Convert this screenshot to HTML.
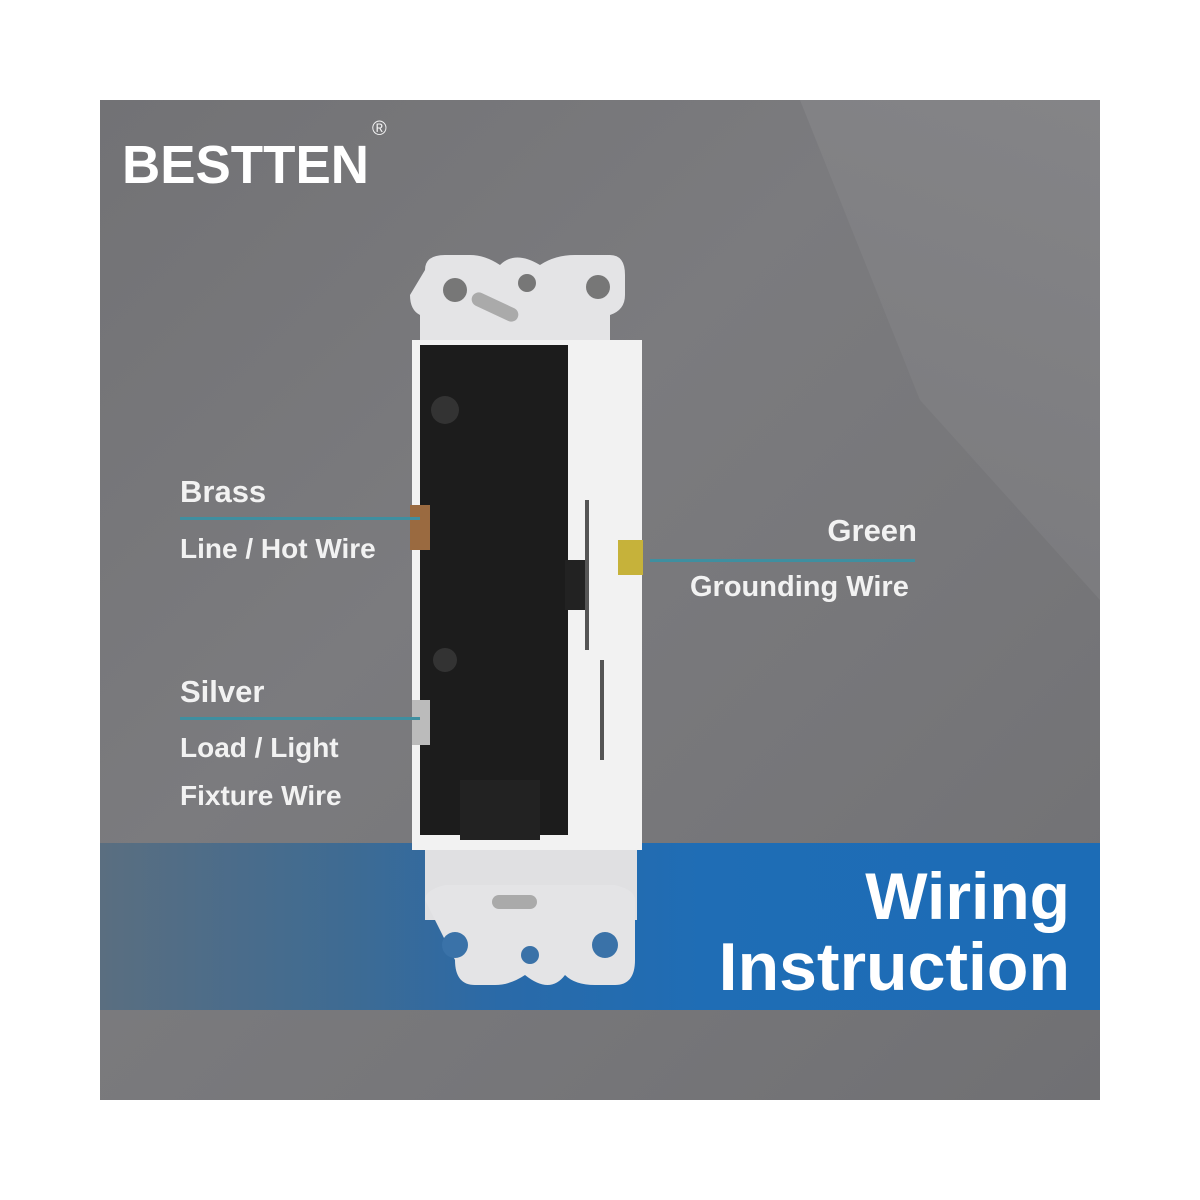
<!DOCTYPE html>
<html><head><style>
body{margin:0;width:1200px;height:1200px;background:#fff;position:relative;overflow:hidden;font-family:"Liberation Sans",sans-serif}
#p{position:absolute;left:100px;top:100px;width:1000px;height:1000px;background:linear-gradient(135deg,#727275 0%,#7b7b7e 40%,#767679 70%,#707073 100%);overflow:hidden}
.t{position:absolute;color:#f2f2f2;font-weight:bold;white-space:nowrap}
.l{position:absolute;height:3px;background:#3f8fa0}
</style></head><body>
<div id="p">
<div style="position:absolute;left:700px;top:0;width:300px;height:500px;background:linear-gradient(200deg,#848487,#7a7a7d);clip-path:polygon(0 0,100% 0,100% 100%,40% 60%)"></div>
<div style="position:absolute;left:0;top:743px;width:1000px;height:167px;background:linear-gradient(90deg,#5a6e80 0%,#3e6b93 25%,#2a6aa8 40%,#1f6db5 60%,#1c6cb6 100%)"></div>
</div>
<div class="t" style="left:122px;top:134px;font-size:54px;color:#fff;transform:scaleX(0.98);transform-origin:left top">BESTTEN</div>
<div class="t" style="left:372px;top:118px;font-size:20px;font-weight:normal">®</div>
<svg style="position:absolute;left:0;top:0" width="1200" height="1200">
<path d="M425 270 q0-15 20-15 h25 q15 0 30 10 q15-15 40 0 q15-10 35-10 h35 q15 0 15 20 v20 q0 15-15 20 v25 h-190 v-25 q-10-5-10-20z" fill="#e4e4e6"/>
<circle cx="455" cy="290" r="12" fill="#777"/><circle cx="527" cy="283" r="9" fill="#777"/><circle cx="598" cy="287" r="12" fill="#777"/>
<rect x="470" y="300" width="50" height="14" rx="7" fill="#aaa" transform="rotate(25 495 307)"/>
<rect x="412" y="340" width="230" height="510" fill="#f2f2f2"/>
<rect x="420" y="345" width="148" height="490" fill="#1c1c1c"/>
<rect x="565" y="560" width="20" height="50" fill="#222"/>
<circle cx="445" cy="410" r="14" fill="#333"/><circle cx="445" cy="660" r="12" fill="#333"/>
<rect x="410" y="505" width="20" height="45" fill="#9a6a40"/>
<rect x="412" y="700" width="18" height="45" fill="#bbb"/>
<rect x="618" y="540" width="25" height="35" fill="#c6b23a"/>
<rect x="585" y="500" width="4" height="150" fill="#555"/>
<rect x="600" y="660" width="4" height="100" fill="#555"/>
<rect x="425" y="850" width="212" height="70" fill="#e0e0e2"/>
<rect x="460" y="780" width="80" height="60" fill="#222"/>
<path d="M425 900 q0-10 20-15 h170 q20 5 20 15 v60 q0 25-20 25 h-20 q-20 0-30-10 q-15 20-40 0 q-15 10-30 10 h-20 q-20 0-20-25z" fill="#e4e4e6"/>
<circle cx="455" cy="945" r="13" fill="#3a72a8"/><circle cx="530" cy="955" r="9" fill="#3a72a8"/><circle cx="605" cy="945" r="13" fill="#3a72a8"/>
<rect x="492" y="895" width="45" height="14" rx="7" fill="#aaa"/>
</svg>
<div class="l" style="left:180px;top:517px;width:240px"></div>
<div class="l" style="left:650px;top:559px;width:265px"></div>
<div class="l" style="left:180px;top:717px;width:240px"></div>
<div class="t" style="left:180px;top:474px;font-size:31px">Brass</div>
<div class="t" style="left:180px;top:533px;font-size:28px">Line / Hot Wire</div>
<div class="t" style="right:283px;top:513px;font-size:31px">Green</div>
<div class="t" style="left:690px;top:571px;font-size:29px">Grounding Wire</div>
<div class="t" style="left:180px;top:674px;font-size:31px">Silver</div>
<div class="t" style="left:180px;top:732px;font-size:28px">Load / Light</div>
<div class="t" style="left:180px;top:780px;font-size:28px">Fixture Wire</div>
<div class="t" style="right:130px;top:858px;font-size:66px;color:#fff">Wiring</div>
<div class="t" style="right:130px;top:928px;font-size:68px;color:#fff">Instruction</div>
</body></html>
